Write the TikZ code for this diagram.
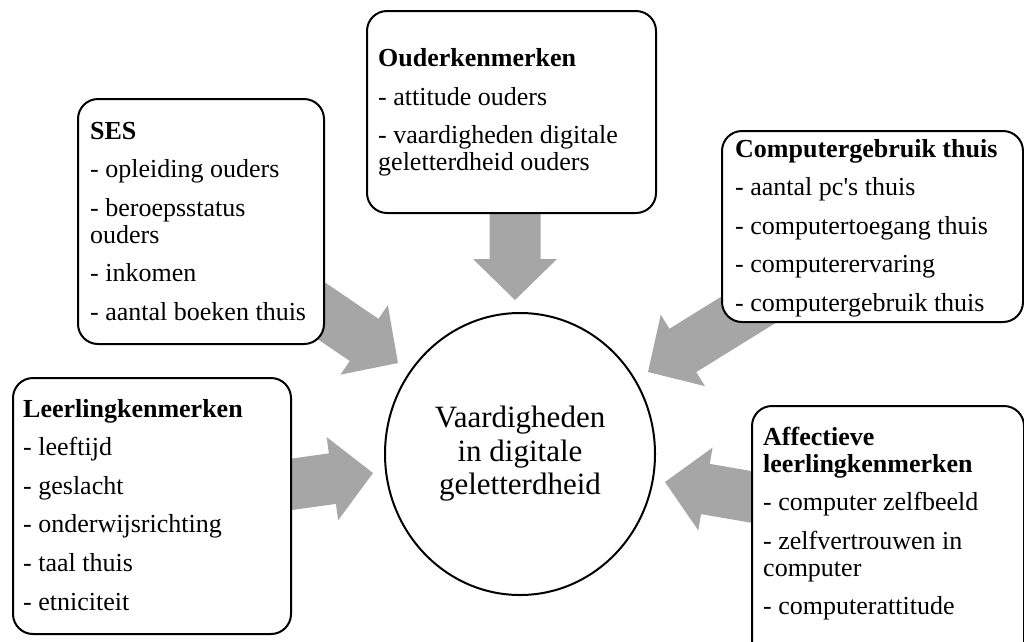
\documentclass[tikz,border=0pt]{standalone}
\usepackage{fontspec}
\setmainfont{Liberation Serif}
\usetikzlibrary{calc,shapes.geometric}
\definecolor{arrowgray}{RGB}{166,166,166}
\newcommand\blockarrow[2]{%
  \path ($(#2)!41pt!(#1)$) coordinate (hb);
  \fill[arrowfill] ($(#1)!25.5pt!90:(#2)$) -- ($(hb)!25.5pt!90:(#2)$) -- ($(hb)!42pt!90:(#2)$) -- (#2)
     -- ($(hb)!42pt!-90:(#2)$) -- ($(hb)!25.5pt!-90:(#2)$) -- ($(#1)!25.5pt!-90:(#2)$) -- cycle;
}
\newcommand\itemgap{\\[11.6pt]}
\begin{document}
\begin{tikzpicture}[x=1pt,y=-1pt,
  arrowfill/.style={fill=arrowgray,draw=none},
  infobox/.style={draw,line width=2pt,rounded corners=20pt,fill=white,anchor=north west,inner sep=0pt},
  boxtext/.style={anchor=base west,inner sep=0pt,font=\fontsize{26}{27}\selectfont},
  centre/.style={draw,ellipse,line width=2pt,fill=white,inner sep=0pt,align=center,font=\fontsize{31}{33.5}\selectfont}]
\useasboundingbox (0,0) rectangle (1024,641);
% arrow end points
\coordinate (ouderT) at (515,190);  \coordinate (ouderP) at (515,300);
\coordinate (sesT) at (274,278.5);  \coordinate (sesP) at (398,363);
\coordinate (compT) at (775.5,293); \coordinate (compP) at (648,372);
\coordinate (leerT) at (224.5,493.6); \coordinate (leerP) at (373,473);
\coordinate (affT) at (812.8,507.5); \coordinate (affP) at (665,482);
\blockarrow{ouderT}{ouderP}
\blockarrow{sesT}{sesP}
\blockarrow{compT}{compP}
\blockarrow{leerT}{leerP}
\blockarrow{affT}{affP}
% boxes
\node[infobox,minimum width=278,minimum height=256] (leer) at (12,377) {};
\node[infobox,minimum width=246,minimum height=245] (ses) at (77,98) {};
\node[infobox,minimum width=289,minimum height=202] (ouder) at (366,10) {};
\node[infobox,minimum width=301,minimum height=191] (comp) at (721,130) {};
\node[infobox,minimum width=272,minimum height=260] (aff) at (751,405) {};
% texts
\node[boxtext] (leertxt) at (23,417) {\begin{tabular}[t]{@{}l@{}}\textbf{Leerlingkenmerken}\itemgap - leeftijd\itemgap - geslacht\itemgap - onderwijsrichting\itemgap - taal thuis\itemgap - etniciteit\end{tabular}};
\node[boxtext] (sestxt) at (90,139) {\begin{tabular}[t]{@{}l@{}}\textbf{SES}\itemgap - opleiding ouders\itemgap - beroepsstatus\\ ouders\itemgap - inkomen\itemgap - aantal boeken thuis\end{tabular}};
\node[boxtext] (oudertxt) at (378,66.5) {\begin{tabular}[t]{@{}l@{}}\textbf{Ouderkenmerken}\itemgap - attitude ouders\itemgap - vaardigheden digitale\\ geletterdheid ouders\end{tabular}};
\node[boxtext] (comptxt) at (735,157) {\begin{tabular}[t]{@{}l@{}}\textbf{Computergebruik thuis}\itemgap - aantal pc\textquotesingle s thuis\itemgap - computertoegang thuis\itemgap - computerervaring\itemgap - computergebruik thuis\end{tabular}};
\node[boxtext] (afftxt) at (763,445) {\begin{tabular}[t]{@{}l@{}}\textbf{Affectieve}\\ \textbf{leerlingkenmerken}\itemgap - computer zelfbeeld\itemgap - zelfvertrouwen in\\ computer\itemgap - computerattitude\end{tabular}};
% centre
\node[centre,minimum width=270,minimum height=282] (vaard) at (520,454) {Vaardigheden\\ in digitale\\ geletterdheid};
\end{tikzpicture}
\end{document}
